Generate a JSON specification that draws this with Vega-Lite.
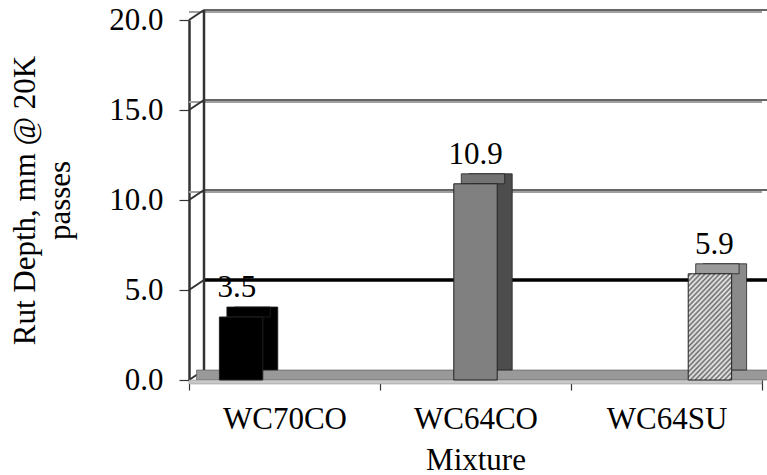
{
  "$schema": "https://vega.github.io/schema/vega-lite/v6.json",
  "width": 573,
  "height": 360,
  "autosize": "none",
  "padding": {"left": 189, "top": 20, "right": 5, "bottom": 95},
  "background": "white",
  "config": {"view": {"stroke": null}, "font": "Liberation Serif"},
  "datasets": {
    "rut": [
      {"Mixture": "WC70CO", "Series": "A", "RutDepth": 3.5},
      {"Mixture": "WC64CO", "Series": "B", "RutDepth": 10.9},
      {"Mixture": "WC64SU", "Series": "C", "RutDepth": 5.9}
    ],
    "grid": [{"v": 0}, {"v": 5}, {"v": 10}, {"v": 15}, {"v": 20}]
  },
  "resolve": {"scale": {"x": "independent", "xOffset": "independent", "color": "independent"}},
  "layer": [
    {
      "data": {"name": "grid"},
      "mark": {"type": "rule", "yOffset": -8, "color": "#a0a0a0", "strokeWidth": 2},
      "transform": [{"filter": "datum.v > 0"}],
      "encoding": {
        "y": {
          "field": "v", "type": "quantitative", "scale": {"domain": [0, 20]},
          "axis": {
            "title": ["Rut Depth, mm @ 20K", "passes"], "values": [0, 5, 10, 15, 20], "format": ".1f", "grid": false,
            "labelFont": "Liberation Serif", "labelFontSize": 31, "labelColor": "#000000", "labelPadding": 16,
            "titleFont": "Liberation Serif", "titleFontSize": 31, "titleFontWeight": "normal", "titleColor": "#000000", "titlePadding": 32, "titleLineHeight": 35,
            "domainColor": "#333333", "domainWidth": 2.5, "tickColor": "#333333", "tickSize": 10, "tickWidth": 1.2
          }
        },
        "x": {"datum": 0, "type": "quantitative", "scale": {"domain": [0, 1]}, "axis": null},
        "x2": {"datum": 1},
        "opacity": {"condition": {"test": "datum.v == 5", "value": 0}, "value": 1}
      }
    },
    {
      "data": {"name": "grid"},
      "mark": {"type": "rule", "xOffset": 15, "x2Offset": 15, "yOffset": -10},
      "transform": [{"filter": "datum.v > 0"}],
      "encoding": {
        "y": {"field": "v", "type": "quantitative"},
        "x": {"datum": 0, "type": "quantitative", "scale": {"domain": [0, 1]}, "axis": null},
        "x2": {"datum": 1},
        "color": {"condition": {"test": "datum.v == 5", "value": "#000000"}, "value": "#333333"},
        "strokeWidth": {"condition": {"test": "datum.v == 5", "value": 3.5}, "value": 1.5}
      }
    },
    {
      "data": {"name": "grid"},
      "mark": {"type": "rule", "x2Offset": 15, "y2Offset": -10, "color": "#333333", "strokeWidth": 2},
      "encoding": {
        "y": {"field": "v", "type": "quantitative"},
        "y2": {"field": "v"},
        "x": {"datum": 0, "type": "quantitative", "scale": {"domain": [0, 1]}, "axis": null},
        "x2": {"datum": 0}
      }
    },
    {
      "data": {"name": "grid"},
      "transform": [{"filter": "datum.v == 0"}],
      "mark": {"type": "rule", "xOffset": 15, "yOffset": -10, "y2Offset": -10, "color": "#333333", "strokeWidth": 2.5},
      "encoding": {
        "y": {"datum": 0, "type": "quantitative"},
        "y2": {"datum": 20},
        "x": {"datum": 0, "type": "quantitative", "scale": {"domain": [0, 1]}, "axis": null}
      }
    },
    {
      "data": {"name": "grid"},
      "transform": [{"filter": "datum.v == 0"}],
      "mark": {"type": "rect", "xOffset": 7.5, "x2Offset": 7.5, "y2Offset": -10, "fill": "#999999", "stroke": "#555555", "strokeWidth": 0.6},
      "encoding": {
        "y": {"datum": 0, "type": "quantitative"},
        "y2": {"datum": 0},
        "x": {"datum": 0, "type": "quantitative", "scale": {"domain": [0, 1]}, "axis": null},
        "x2": {"datum": 1}
      }
    },
    {
      "data": {"name": "grid"},
      "transform": [{"filter": "datum.v == 0"}],
      "mark": {"type": "rect", "y2Offset": 4, "fill": "#c8c8c8", "stroke": "#888888", "strokeWidth": 0.5},
      "encoding": {
        "y": {"datum": 0, "type": "quantitative"},
        "y2": {"datum": 0},
        "x": {"datum": 0, "type": "quantitative", "scale": {"domain": [0, 1]}, "axis": null},
        "x2": {"datum": 1}
      }
    },
    {
      "data": {"name": "rut"},
      "mark": {"type": "bar", "yOffset": -10, "y2Offset": -10, "stroke": "#222222", "strokeWidth": 0.8},
      "encoding": {
        "x": {"field": "Mixture", "type": "nominal", "sort": null, "scale": {"paddingInner": 0, "paddingOuter": 0}, "axis": null},
        "xOffset": {"field": "Series", "type": "nominal", "scale": {"paddingInner": 0, "paddingOuter": 0.7, "range": [15, 206]}},
        "y": {"field": "RutDepth", "type": "quantitative"},
        "y2": {"datum": 0},
        "color": {"field": "Mixture", "type": "nominal", "legend": null, "scale": {"domain": ["WC70CO", "WC64CO", "WC64SU"], "range": ["#000000", "#4d4d4d", "#8a8a8a"]}}
      }
    },
    {
      "data": {"name": "rut"},
      "mark": {"type": "bar", "yOffset": -10, "stroke": "#222222", "strokeWidth": 0.8},
      "encoding": {
        "x": {"field": "Mixture", "type": "nominal", "sort": null, "scale": {"paddingInner": 0, "paddingOuter": 0}, "axis": null},
        "xOffset": {"field": "Series", "type": "nominal", "scale": {"paddingInner": 0, "paddingOuter": 0.7, "range": [7.5, 198.5]}},
        "y": {"field": "RutDepth", "type": "quantitative"},
        "y2": {"field": "RutDepth"},
        "color": {"field": "Mixture", "type": "nominal", "legend": null, "scale": {"domain": ["WC70CO", "WC64CO", "WC64SU"], "range": ["#000000", "#737373", "#9a9a9a"]}}
      }
    },
    {
      "data": {"name": "rut"},
      "mark": {"type": "bar", "stroke": "#222222", "strokeWidth": 1},
      "encoding": {
        "x": {
          "field": "Mixture", "type": "nominal", "sort": null,
          "scale": {"paddingInner": 0, "paddingOuter": 0},
          "axis": {
            "title": "Mixture", "labelAngle": 0, "tickBand": "extent",
            "labelFont": "Liberation Serif", "labelFontSize": 31, "labelColor": "#000000", "labelPadding": 14,
            "titleFont": "Liberation Serif", "titleFontSize": 31, "titleFontWeight": "normal", "titleColor": "#000000", "titlePadding": 11,
            "domainColor": "#555555", "domainWidth": 1, "tickColor": "#333333", "tickSize": 10, "tickWidth": 1.2
          }
        },
        "xOffset": {"field": "Series", "type": "nominal", "scale": {"paddingInner": 0, "paddingOuter": 0.7}},
        "y": {"field": "RutDepth", "type": "quantitative"},
        "fill": {
          "condition": {
            "test": "datum.Mixture === 'WC64SU'",
            "value": {
              "gradient": "linear", "x1": 0, "y1": 0, "x2": 0.512, "y2": 1.207,
              "stops": [
                {"offset": 0, "color": "#f2f2f2"}, {"offset": 0.0167, "color": "#6a6a6a"}, {"offset": 0.0333, "color": "#f2f2f2"}, {"offset": 0.05, "color": "#6a6a6a"},
                {"offset": 0.0667, "color": "#f2f2f2"}, {"offset": 0.0833, "color": "#6a6a6a"}, {"offset": 0.1, "color": "#f2f2f2"}, {"offset": 0.1167, "color": "#6a6a6a"},
                {"offset": 0.1333, "color": "#f2f2f2"}, {"offset": 0.15, "color": "#6a6a6a"}, {"offset": 0.1667, "color": "#f2f2f2"}, {"offset": 0.1833, "color": "#6a6a6a"},
                {"offset": 0.2, "color": "#f2f2f2"}, {"offset": 0.2167, "color": "#6a6a6a"}, {"offset": 0.2333, "color": "#f2f2f2"}, {"offset": 0.25, "color": "#6a6a6a"},
                {"offset": 0.2667, "color": "#f2f2f2"}, {"offset": 0.2833, "color": "#6a6a6a"}, {"offset": 0.3, "color": "#f2f2f2"}, {"offset": 0.3167, "color": "#6a6a6a"},
                {"offset": 0.3333, "color": "#f2f2f2"}, {"offset": 0.35, "color": "#6a6a6a"}, {"offset": 0.3667, "color": "#f2f2f2"}, {"offset": 0.3833, "color": "#6a6a6a"},
                {"offset": 0.4, "color": "#f2f2f2"}, {"offset": 0.4167, "color": "#6a6a6a"}, {"offset": 0.4333, "color": "#f2f2f2"}, {"offset": 0.45, "color": "#6a6a6a"},
                {"offset": 0.4667, "color": "#f2f2f2"}, {"offset": 0.4833, "color": "#6a6a6a"}, {"offset": 0.5, "color": "#f2f2f2"}, {"offset": 0.5167, "color": "#6a6a6a"},
                {"offset": 0.5333, "color": "#f2f2f2"}, {"offset": 0.55, "color": "#6a6a6a"}, {"offset": 0.5667, "color": "#f2f2f2"}, {"offset": 0.5833, "color": "#6a6a6a"},
                {"offset": 0.6, "color": "#f2f2f2"}, {"offset": 0.6167, "color": "#6a6a6a"}, {"offset": 0.6333, "color": "#f2f2f2"}, {"offset": 0.65, "color": "#6a6a6a"},
                {"offset": 0.6667, "color": "#f2f2f2"}, {"offset": 0.6833, "color": "#6a6a6a"}, {"offset": 0.7, "color": "#f2f2f2"}, {"offset": 0.7167, "color": "#6a6a6a"},
                {"offset": 0.7333, "color": "#f2f2f2"}, {"offset": 0.75, "color": "#6a6a6a"}, {"offset": 0.7667, "color": "#f2f2f2"}, {"offset": 0.7833, "color": "#6a6a6a"},
                {"offset": 0.8, "color": "#f2f2f2"}, {"offset": 0.8167, "color": "#6a6a6a"}, {"offset": 0.8333, "color": "#f2f2f2"}, {"offset": 0.85, "color": "#6a6a6a"},
                {"offset": 0.8667, "color": "#f2f2f2"}, {"offset": 0.8833, "color": "#6a6a6a"}, {"offset": 0.9, "color": "#f2f2f2"}, {"offset": 0.9167, "color": "#6a6a6a"},
                {"offset": 0.9333, "color": "#f2f2f2"}, {"offset": 0.95, "color": "#6a6a6a"}, {"offset": 0.9667, "color": "#f2f2f2"}, {"offset": 0.9833, "color": "#6a6a6a"},
                {"offset": 1, "color": "#f2f2f2"}
              ]
            }
          },
          "field": "Mixture", "type": "nominal", "legend": null,
          "scale": {"domain": ["WC70CO", "WC64CO", "WC64SU"], "range": ["#000000", "#808080", "#c4c4c4"]}
        }
      }
    },
    {
      "data": {"name": "rut"},
      "mark": {"type": "text", "font": "Liberation Serif", "fontSize": 31, "baseline": "alphabetic", "dy": -20, "color": "#000000"},
      "encoding": {
        "x": {"field": "Mixture", "type": "nominal", "sort": null, "scale": {"paddingInner": 0, "paddingOuter": 0}, "axis": null},
        "xOffset": {"field": "Series", "type": "nominal", "scale": {"type": "point", "padding": 1.195}},
        "y": {"field": "RutDepth", "type": "quantitative"},
        "text": {"field": "RutDepth", "type": "quantitative", "format": ".1f"}
      }
    }
  ]
}
